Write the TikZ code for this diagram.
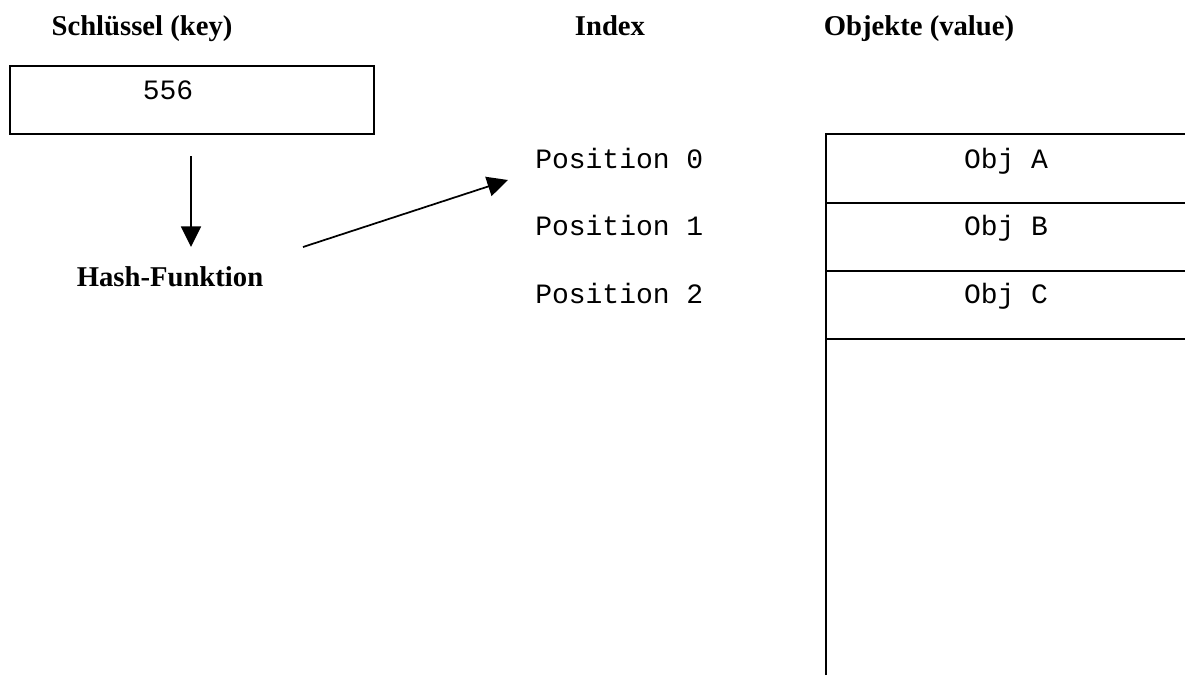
\documentclass[tikz,border=0pt]{standalone}
\usepackage{fontspec}
\setmainfont{Liberation Serif}
\setmonofont{Liberation Mono}
\usetikzlibrary{arrows.meta}
\begin{document}
\begin{tikzpicture}[x=0.75pt,y=-0.75pt,
  heading/.style={font=\fontsize{21.5pt}{24pt}\selectfont\bfseries, inner sep=0pt, anchor=base},
  mono/.style={font=\fontsize{21pt}{24pt}\selectfont\ttfamily, inner sep=0pt, anchor=base},
  rule/.style={line width=1.3pt},
  flow/.style={line width=1.3pt, -{Triangle[length=15.5pt,width=15pt]}}]
\useasboundingbox (0,0) rectangle (1185,675);

% column headings
\node[heading] (hkey) at (142,35) {Schlüssel (key)};
\node[heading] (hidx) at (610,35) {Index};
\node[heading] (hobj) at (919,35) {Objekte (value)};

% key box
\node[draw, rule, minimum width=273pt, minimum height=51pt, inner sep=0pt] (key) at (192,100) {};
\node[mono] (keyval) at (168,99) {556};

% hash function
\node[heading] (hash) at (170,286) {Hash-Funktion};
\coordinate (kout) at (191,156);
\coordinate (hin) at (191,247);
\coordinate (hout) at (303,247);
\coordinate (pin) at (508,180);
\draw[flow] (kout) -- (hin);
\draw[flow] (hout) -- (pin);

% index positions
\node[mono, anchor=base west] (p0) at (535,168) {Position 0};
\node[mono, anchor=base west] (p1) at (535,235) {Position 1};
\node[mono, anchor=base west] (p2) at (535,303) {Position 2};

% value table
\draw[rule] (826,675) -- (826,134) -- (1185,134);
\draw[rule] (826,203) -- (1185,203);
\draw[rule] (826,271) -- (1185,271);
\draw[rule] (826,339) -- (1185,339);
\node[mono] (oa) at (1006,168) {Obj A};
\node[mono] (ob) at (1006,235) {Obj B};
\node[mono] (oc) at (1006,303) {Obj C};
\end{tikzpicture}
\end{document}
